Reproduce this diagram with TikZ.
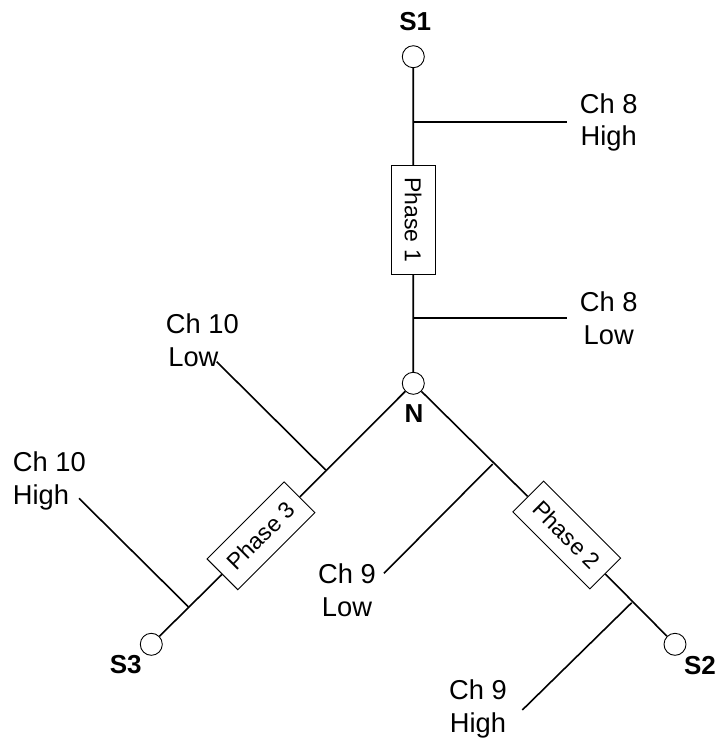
\documentclass[tikz,border=0pt]{standalone}
\usepackage{fontspec}
\setmainfont{Liberation Sans}
\tikzset{
  wire/.style={line width=1.6pt,black},
  terminal/.style={circle,draw,line width=0.9pt,fill=white,minimum size=22pt,inner sep=0pt},
  phasebox/.style={rectangle,draw,line width=0.9pt,fill=white,minimum width=109pt,minimum height=43.5pt,inner sep=0pt,font=\fontsize{23}{27}\selectfont},
  chlabel/.style={inner sep=0pt,align=center,anchor=center,font=\fontsize{27.3}{32.8}\selectfont},
  chlabelleft/.style={chlabel,align=left},
  ptlabel/.style={inner sep=0pt,anchor=base,font=\bfseries\fontsize{26}{30}\selectfont}
}
\begin{document}
\begin{tikzpicture}[x=1pt,y=-1pt]
\useasboundingbox (0,0) rectangle (718,740);
% terminals
\node[terminal] (s1) at (413.3,56.7) {};
\node[terminal] (n) at (413.3,383.3) {};
\node[terminal] (s2) at (675,644.3) {};
\node[terminal] (s3) at (151.3,644.3) {};
% phase boxes
\node[phasebox,rotate=-90] (p1) at (413.2,219.7) {Phase 1\hspace{2pt}};
\node[phasebox,rotate=-45] (p2) at (566.7,535) {Phase 2};
\node[phasebox,rotate=45] (p3) at (261,535.8) {Phase 3};
% trunks
\draw[wire] (s1) -- (p1);
\draw[wire] (p1) -- (n);
\draw[wire] (n) -- (p2);
\draw[wire] (p2) -- (s2);
\draw[wire] (n) -- (p3);
\draw[wire] (p3) -- (s3);
% tap points and free ends
\coordinate (j8h) at (413.3,121.7);
\coordinate (e8h) at (566.7,121.7);
\coordinate (j8l) at (413.3,317.7);
\coordinate (e8l) at (566.7,317.7);
\coordinate (j9l) at (492.7,464);
\coordinate (e9l) at (384,573.3);
\coordinate (j9h) at (631.7,602.7);
\coordinate (e9h) at (522.3,710);
\coordinate (j10l) at (325.7,470);
\coordinate (e10l) at (216.7,361.7);
\coordinate (j10h) at (188.3,606.7);
\coordinate (e10h) at (79,498.3);
\draw[wire] (j8h) -- (e8h);
\draw[wire] (j8l) -- (e8l);
\draw[wire] (j9l) -- (e9l);
\draw[wire] (j9h) -- (e9h);
\draw[wire] (j10l) -- (e10l);
\draw[wire] (j10h) -- (e10h);
% labels
\node[chlabel] (l8h) at (608.7,122.5) {Ch 8\\High};
\node[chlabel] (l8l) at (608.7,318.5) {Ch 8\\Low};
\node[chlabel] (l9l) at (347,590) {Ch 9\\Low};
\node[chlabel] (l9h) at (478,709) {Ch 9\\High};
\node[chlabelleft] (l10l) at (202.3,340.5) {Ch 10\\\hspace{2.5pt}Low};
\node[chlabelleft] (l10h) at (49.3,481) {Ch 10\\High};
\node[ptlabel] (ls1) at (415.3,30) {S1};
\node[ptlabel] (ln) at (414,422.7) {N};
\node[ptlabel] (ls2) at (700,674) {S2};
\node[ptlabel] (ls3) at (125.7,673.3) {S3};
\end{tikzpicture}
\end{document}
